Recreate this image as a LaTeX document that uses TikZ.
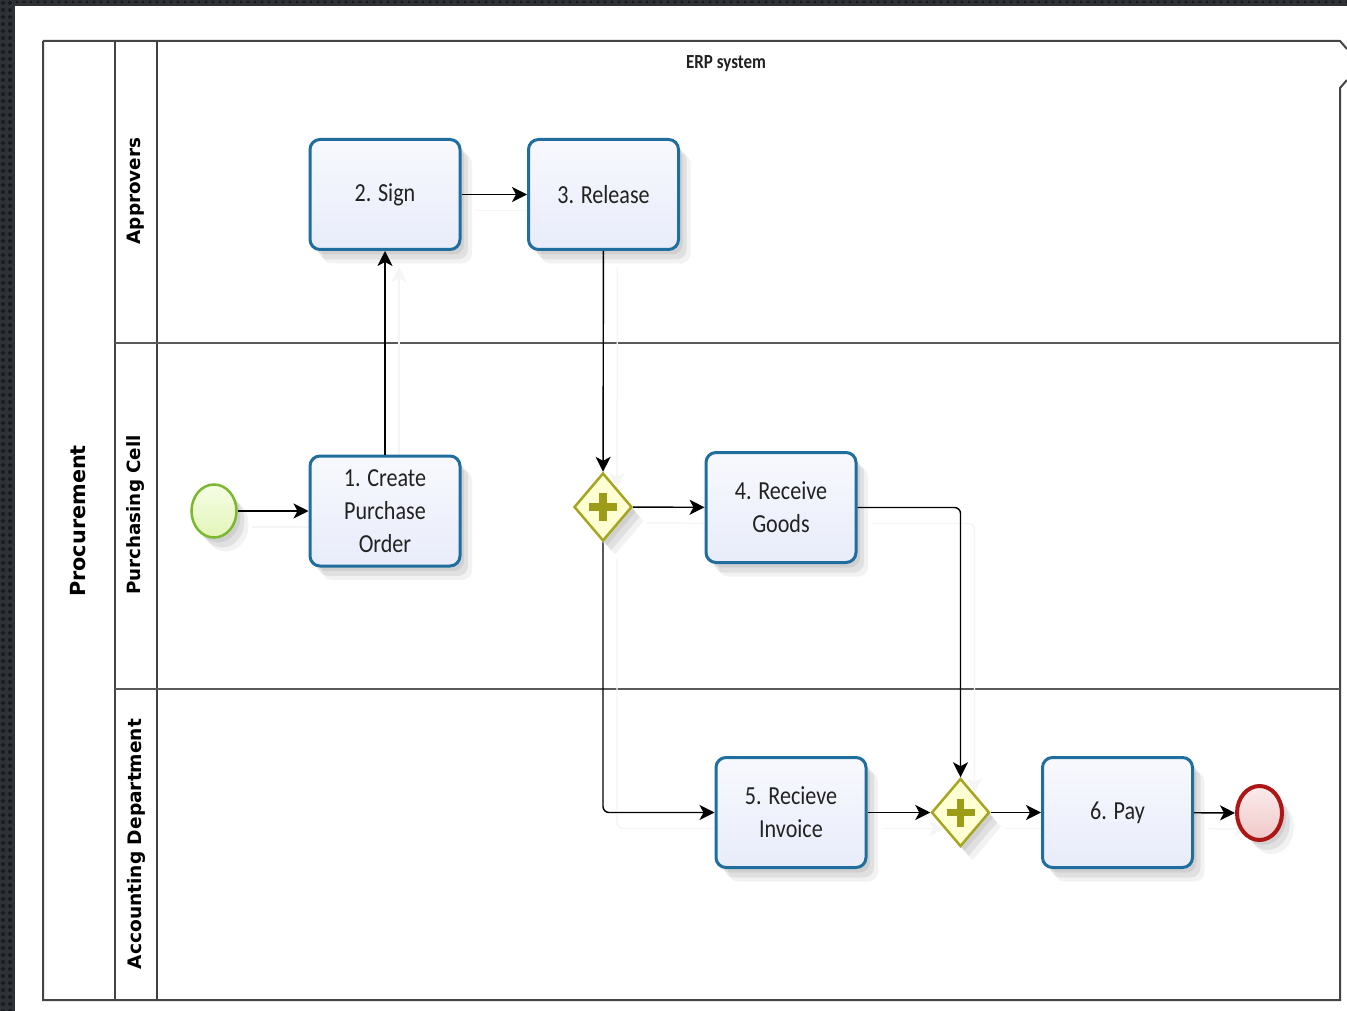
\documentclass[tikz,border=0pt]{standalone}
\usepackage{fontspec}
\usetikzlibrary{shapes.geometric,arrows.meta,shadows}
\newfontfamily\taskfont[FakeStretch=0.85]{Carlito}
\newfontfamily\lanefont{DejaVu Sans}
\definecolor{bgdark}{HTML}{2E3136}
\definecolor{bgdot}{HTML}{1A1C20}
\definecolor{taskblue}{HTML}{1F6E9E}
\definecolor{tasktop}{HTML}{F8F9FE}
\definecolor{taskbot}{HTML}{E8ECFA}
\definecolor{gwline}{HTML}{A5A520}
\definecolor{gwfill}{HTML}{FFFFD4}
\definecolor{gwplus}{HTML}{9C9C18}
\definecolor{stline}{HTML}{7CB82F}
\definecolor{sttop}{HTML}{F6FDE6}
\definecolor{stbot}{HTML}{E2F5B8}
\definecolor{enline}{HTML}{AE1515}
\definecolor{entop}{HTML}{FBEBEB}
\definecolor{enbot}{HTML}{F0C8C8}
\definecolor{pooline}{HTML}{444444}
\definecolor{txt}{HTML}{222222}
\pgfdeclarelayer{bg}
\pgfdeclarelayer{ghost}
\pgfsetlayers{bg,ghost,main}
\tikzset{
  softshadow/.style={
    drop shadow={shadow xshift=4pt, shadow yshift=-5pt, opacity=0.07, fill=black},
    drop shadow={shadow xshift=8pt, shadow yshift=-10pt, opacity=0.07, fill=black},
    drop shadow={shadow xshift=12pt, shadow yshift=-14pt, opacity=0.05, fill=black}},
  taskbox/.style={draw=taskblue, line width=3pt, rounded corners=10pt,
    top color=tasktop, bottom color=taskbot, minimum width=150pt, minimum height=110pt,
    align=center, text=txt, font=\taskfont\fontsize{26}{33}\selectfont, softshadow},
  gateway/.style={diamond, draw=gwline, line width=2.5pt, fill=gwfill,
    minimum width=58pt, minimum height=68pt, inner sep=0pt, aspect=0.85, softshadow,
    path picture={\draw[gwplus, line width=7.5pt] (path picture bounding box.center) ++(-14pt,0pt) -- ++(28pt,0pt);
                  \draw[gwplus, line width=7.5pt] (path picture bounding box.center) ++(0pt,-14pt) -- ++(0pt,28pt);}},
  startev/.style={ellipse, draw=stline, line width=2.5pt, top color=sttop, bottom color=stbot,
    minimum width=45pt, minimum height=53pt, inner sep=0pt, softshadow},
  endev/.style={ellipse, draw=enline, line width=4pt, top color=entop, bottom color=enbot,
    minimum width=45pt, minimum height=54pt, inner sep=0pt, softshadow},
  flow/.style={draw=black, line width=1.4pt, -{Stealth[length=15pt, width=15pt, inset=4pt]}},
  ghostflow/.style={draw=black!4, line width=1.4pt, -{Stealth[length=15pt, width=15pt, inset=4pt]}},
  poolline/.style={draw=pooline, line width=2pt},
  laneline/.style={draw=black!65, line width=2pt},
  lanelabel/.style={rotate=90, text=black, inner sep=0pt},
}
\begin{document}
\begin{tikzpicture}[x=1pt,y=-1pt]
\useasboundingbox (0,0) rectangle (1347,1011);
\begin{pgfonlayer}{bg}
% dark background frame
\fill[bgdark] (0,0) rectangle (1347,1011);
\foreach \yy in {3,10,...,1011} {\foreach \xx in {3,10} {\fill[bgdot] (\xx,\yy) circle (2pt);}}
\foreach \xx in {17,24,...,1347} {\fill[bgdot] (\xx,2) circle (1.6pt);}
\fill[white] (15,6) rectangle (1347,1011);
% pool outline
\draw[poolline] (43,41) -- (1340,41) -- (1347,49);
\draw[poolline] (1347,80) -- (1340,88) -- (1340,1000) -- (43,1000) -- (43,41);
\draw[poolline] (115,41) -- (115,1000);
\draw[draw=black!75, line width=1.5pt] (157,41) -- (157,1000);
\draw[laneline] (115,343) -- (1340,343);
\draw[laneline] (115,689) -- (1340,689);
\end{pgfonlayer}
% labels
\node[lanelabel, font=\lanefont\bfseries\fontsize{20.8}{24}\selectfont] (lpool) at (78,521) {Procurement};
\node[lanelabel, font=\lanefont\bfseries\fontsize{18.4}{22}\selectfont] (lapp) at (136,191) {Approvers};
\node[lanelabel, font=\lanefont\bfseries\fontsize{18.3}{20}\selectfont] (lpur) at (136,515) {Purchasing Cell};
\node[lanelabel, font=\lanefont\bfseries\fontsize{18.6}{22}\selectfont] (lacc) at (136,844) {Accounting Department};
\node[text=txt, font=\taskfont\bfseries\fontsize{20}{24}\selectfont] (erp) at (726,64) {ERP system};
% nodes
\node[startev] (start) at (214,511) {};
\node[taskbox] (t1) at (385,511) {1. Create\\Purchase\\Order};
\node[taskbox] (t2) at (385,194.5) {2. Sign};
\node[taskbox] (t3) at (603.5,194.5) {3. Release};
\node[gateway] (g1) at (603,507) {};
\node[taskbox] (t4) at (781,507.5) {4. Receive\\Goods};
\node[taskbox] (t5) at (791,812.5) {5. Recieve\\Invoice};
\node[gateway] (g2) at (960.5,812.5) {};
\node[taskbox] (t6) at (1117.5,812.5) {6. Pay};
\node[endev] (e) at (1259.5,813) {};
% faint connector shadows
\begin{pgfonlayer}{ghost}
\begin{scope}[transform canvas={shift={(14pt,-16pt)}}]
\draw[ghostflow] (start) -- (t1);
\draw[ghostflow] (t1) -- (t2);
\draw[ghostflow] (t2) -- (t3);
\draw[ghostflow] (t3) -- (g1);
\draw[ghostflow] (g1) -- (t4);
\draw[ghostflow, rounded corners=6pt] (g1.south) |- (t5.west);
\draw[ghostflow, rounded corners=6pt] (t4.east) -| (g2.north);
\draw[ghostflow] (t5) -- (g2);
\draw[ghostflow] (g2) -- (t6);
\draw[ghostflow] (t6) -- (e);
\end{scope}
\end{pgfonlayer}
% flows
\draw[flow] (start) -- (t1);
\draw[flow] (t1) -- (t2);
\draw[flow] (t2) -- (t3);
\draw[flow] (t3) -- (g1);
\draw[flow] (g1) -- (t4);
\draw[flow, rounded corners=6pt] (g1.south) |- (t5.west);
\draw[flow, rounded corners=6pt] (t4.east) -| (g2.north);
\draw[flow] (t5) -- (g2);
\draw[flow] (g2) -- (t6);
\draw[flow] (t6) -- (e);
\end{tikzpicture}
\end{document}
